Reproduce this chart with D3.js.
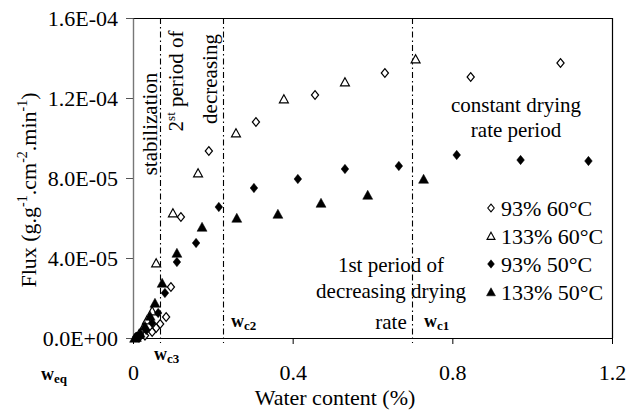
<!DOCTYPE html>
<html>
<head>
<meta charset="utf-8">
<script src="https://cdn.jsdelivr.net/npm/d3@7"></script>
<style>
  body { margin: 0; background: #fff; }
  svg { display: block; font-family: "Liberation Serif", "Times New Roman", serif; }
</style>
</head>
<body>
<svg id="chart" width="638" height="410"></svg>
<script>
// water content (%) and flux (g.g-1.cm-2.min-1)
const w93at60 = [1.071, 0.846, 0.631, 0.456, 0.308, 0.190, 0.120, 0.095, 0.083, 0.068, 0.058, 0.048, 0.030, 0.015];
const f93at60 = [13.75e-5, 13.05e-5, 13.25e-5, 12.15e-5, 10.8e-5, 9.35e-5, 6.05e-5, 2.55e-5, 1.05e-5, 0.7e-5, 0.5e-5, 0.3e-5, 0.12e-5, 0.03e-5];

const w133at60 = [0.708, 0.531, 0.378, 0.258, 0.163, 0.100, 0.058, 0.048, 0.035, 0.025, 0.015, 0.008];
const f133at60 = [13.95e-5, 12.8e-5, 11.95e-5, 10.25e-5, 8.25e-5, 6.25e-5, 3.75e-5, 1.35e-5, 0.9e-5, 0.5e-5, 0.2e-5, 0.05e-5];

const w93at50 = [1.141, 0.971, 0.811, 0.666, 0.531, 0.413, 0.303, 0.215, 0.158, 0.110, 0.080, 0.063, 0.048, 0.033, 0.018, 0.008];
const f93at50 = [8.85e-5, 8.9e-5, 9.15e-5, 8.6e-5, 8.45e-5, 7.95e-5, 7.5e-5, 6.55e-5, 4.75e-5, 3.8e-5, 2.25e-5, 1.25e-5, 0.75e-5, 0.4e-5, 0.15e-5, 0.05e-5];

const w133at50 = [0.728, 0.588, 0.471, 0.363, 0.260, 0.173, 0.110, 0.073, 0.055, 0.043, 0.030, 0.018, 0.008, 0.004];
const f133at50 = [7.95e-5, 7.15e-5, 6.75e-5, 6.2e-5, 6.0e-5, 5.55e-5, 4.25e-5, 2.75e-5, 1.75e-5, 1.1e-5, 0.6e-5, 0.25e-5, 0.05e-5, 0.0];

const seriesNames = ["93% 60°C", "133% 60°C", "93% 50°C", "133% 50°C"];
const criticalW = [0.068, 0.225, 0.70];   // wc3, wc2, wc1

const xTicks = [0, 0.4, 0.8, 1.2];
const xTickLabels = ["0", "0.4", "0.8", "1.2"];
const yTicks = [0, 4e-5, 8e-5, 1.2e-4, 1.6e-4];
const yTickLabels = ["0.0E+00", "4.0E-05", "8.0E-05", "1.2E-04", "1.6E-04"];

const svg = d3.select("#chart");
const plotL = 133, plotR = 612, plotT = 18, plotB = 338;

const x = d3.scaleLinear().domain([0, 1.2]).range([plotL, plotR]);
const y = d3.scaleLinear().domain([0, 1.6e-4]).range([plotB, plotT]);

// custom marker shapes
const diamond = {
    draw(ctx, size) {
        const h = Math.sqrt(size) / 2;
        ctx.moveTo(0, -h * 1.1); ctx.lineTo(h * 0.9, 0); ctx.lineTo(0, h * 1.1); ctx.lineTo(-h * 0.9, 0); ctx.closePath();
    }
};
const triangle = {
    draw(ctx, size) {
        const h = Math.sqrt(size) / 2;
        ctx.moveTo(0, -h); ctx.lineTo(h * 1.05, h * 0.9); ctx.lineTo(-h * 1.05, h * 0.9); ctx.closePath();
    }
};

const series = [
    { name: seriesNames[0], w: w93at60, f: f93at60, shape: diamond, open: true, size: 64 },
    { name: seriesNames[1], w: w133at60, f: f133at60, shape: triangle, open: true, size: 72 },
    { name: seriesNames[2], w: w93at50, f: f93at50, shape: diamond, open: false, size: 72 },
    { name: seriesNames[3], w: w133at50, f: f133at50, shape: triangle, open: false, size: 90 }
];

// frame (top + right)
svg.append("path")
    .attr("d", `M${plotL},${plotT + 0.5}H${plotR + 0.5}V${plotB}`)
    .attr("fill", "none").attr("stroke", "#000").attr("stroke-width", 1.2);

// critical water content lines
svg.selectAll(".crit").data(criticalW).enter().append("line")
    .attr("class", "crit")
    .attr("x1", d => Math.round(x(d)) + 0.5).attr("x2", d => Math.round(x(d)) + 0.5)
    .attr("y1", plotT).attr("y2", plotB + 5)
    .attr("stroke", "#000").attr("stroke-width", 1.1)
    .attr("stroke-dasharray", "6,3,1.5,3");

// axes
const xAxis = svg.append("g").attr("transform", `translate(0,${plotB})`)
    .call(d3.axisBottom(x).tickValues(xTicks).tickFormat((d, i) => xTickLabels[i]).tickSize(6).tickPadding(20).tickSizeOuter(0));
const yAxis = svg.append("g").attr("transform", `translate(${plotL},0)`)
    .call(d3.axisLeft(y).tickValues(yTicks).tickFormat((d, i) => yTickLabels[i]).tickSize(7).tickPadding(8).tickSizeOuter(0));

xAxis.select(".domain").attr("stroke", "#000").attr("stroke-width", 1.2);
yAxis.select(".domain").attr("stroke", "#777").attr("stroke-width", 1.4);
yAxis.selectAll(".tick line").attr("stroke", "#555");
[xAxis, yAxis].forEach(a => a.selectAll("text")
    .attr("font-family", "Liberation Serif, serif").attr("font-size", 22).attr("fill", "#000"));

// points
series.forEach(s => {
    svg.append("g").selectAll("path").data(s.w).enter().append("path")
        .attr("transform", (d, i) => `translate(${x(d)},${y(s.f[i])})`)
        .attr("d", d3.symbol().type(s.shape).size(s.size))
        .attr("fill", s.open ? "#fff" : "#000")
        .attr("stroke", "#000").attr("stroke-width", s.open ? 1.2 : 0.5);
});

// legend
const legend = svg.append("g").attr("transform", "translate(491,208)");
series.forEach((s, i) => {
    const row = legend.append("g").attr("transform", `translate(0,${i * 28})`);
    row.append("path")
        .attr("d", d3.symbol().type(s.shape).size(s.size * 0.8))
        .attr("fill", s.open ? "#fff" : "#000")
        .attr("stroke", "#000").attr("stroke-width", s.open ? 1.1 : 0.5);
    row.append("text").attr("x", 10).attr("dy", "0.35em")
        .attr("font-size", 22).text(s.name);
});

// axis titles
svg.append("text").attr("x", 335).attr("y", 405).attr("text-anchor", "middle")
    .attr("font-size", 22).text("Water content (%)");

const yt = svg.append("text").attr("transform", "translate(36,190) rotate(-90)")
    .attr("text-anchor", "middle").attr("font-size", 22);
yt.append("tspan").text("Flux (g.g");
yt.append("tspan").attr("dy", -9).attr("font-size", 14).text("-1");
yt.append("tspan").attr("dy", 9).text(".cm");
yt.append("tspan").attr("dy", -9).attr("font-size", 14).text("-2");
yt.append("tspan").attr("dy", 9).text(".min");
yt.append("tspan").attr("dy", -9).attr("font-size", 14).text("-1");
yt.append("tspan").attr("dy", 9).text(")");

// period annotations
svg.append("text").attr("transform", "translate(157,124) rotate(-90)")
    .attr("text-anchor", "middle").attr("font-size", 21).text("stabilization");

const p2 = svg.append("text").attr("transform", "translate(183,81) rotate(-90)")
    .attr("text-anchor", "middle").attr("font-size", 21);
p2.append("tspan").text("2");
p2.append("tspan").attr("dy", -8).attr("font-size", 13).text("st");
p2.append("tspan").attr("dy", 8).text(" period of");

svg.append("text").attr("transform", "translate(217,79) rotate(-90)")
    .attr("text-anchor", "middle").attr("font-size", 21).text("decreasing");

const midText = [["constant drying", 516, 112], ["rate period", 516, 137],
                 ["1st period of", 391, 272], ["decreasing drying", 391, 298], ["rate", 391, 329]];
svg.selectAll(".note").data(midText).enter().append("text")
    .attr("class", "note")
    .attr("x", d => d[1]).attr("y", d => d[2])
    .attr("text-anchor", "middle").attr("font-size", 21)
    .text(d => d[0]);

// critical point labels
function wLabel(px, py, sub) {
    const t = svg.append("text").attr("x", px).attr("y", py)
        .attr("font-weight", "bold").attr("font-size", 18);
    t.append("tspan").text("w");
    t.append("tspan").attr("dy", 3).attr("font-size", 13).text(sub);
}
wLabel(231, 327, "c2");
wLabel(424, 327, "c1");
wLabel(154, 360, "c3");
wLabel(41, 380, "eq");
</script>
</body>
</html>
